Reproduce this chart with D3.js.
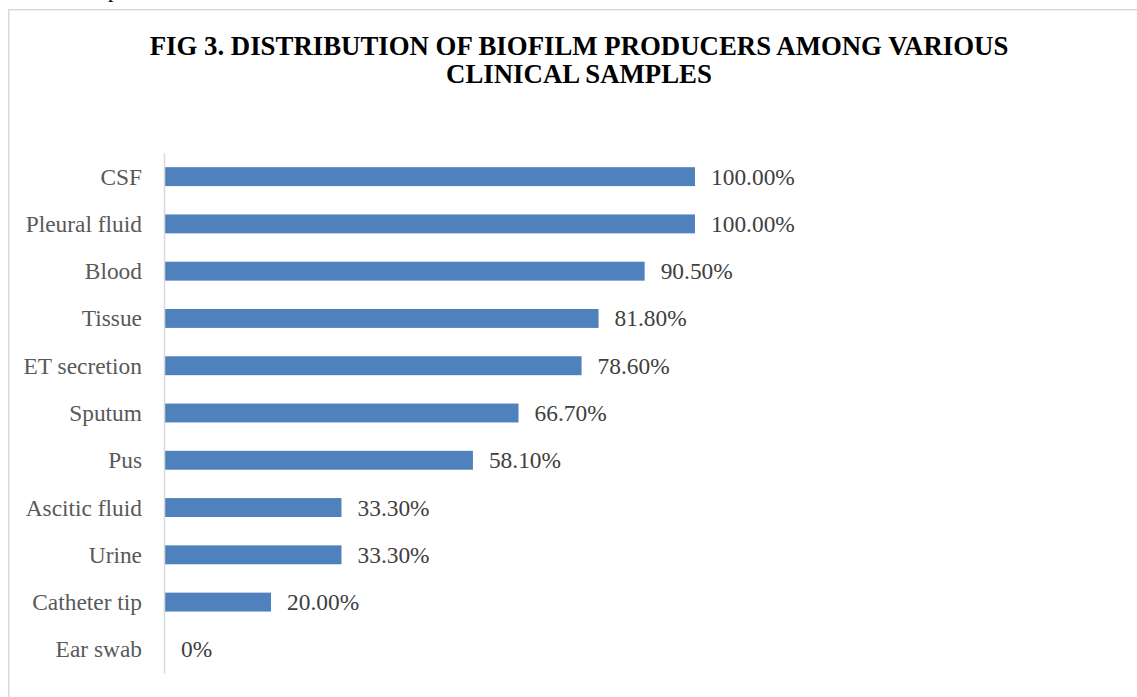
<!DOCTYPE html>
<html>
<head>
<meta charset="utf-8">
<script src="https://cdn.jsdelivr.net/npm/d3@7"></script>
<style>
html,body{margin:0;padding:0;background:#fff;overflow:hidden;}
svg{display:block;}
</style>
</head>
<body>
<svg id="chart" width="1137" height="697"></svg>
<script>
const categories = ["CSF","Pleural fluid","Blood","Tissue","ET secretion","Sputum","Pus","Ascitic fluid","Urine","Catheter tip","Ear swab"];
const values = [100.0,100.0,90.5,81.8,78.6,66.7,58.1,33.3,33.3,20.0,0];
const valueLabels = ["100.00%","100.00%","90.50%","81.80%","78.60%","66.70%","58.10%","33.30%","33.30%","20.00%","0%"];
const titleLines = ["FIG 3. DISTRIBUTION OF BIOFILM PRODUCERS AMONG VARIOUS","CLINICAL SAMPLES"];

const svg = d3.select("#chart");
const font = "'Liberation Serif','Times New Roman',serif";

// stray text descender from page above
svg.append("text").attr("x",108).attr("y",-3).attr("font-family",font).attr("font-size",22).attr("fill","#000").text("p");

// chart frame
svg.append("rect").attr("x",8.75).attr("y",9.75).attr("width",1200).attr("height",800)
  .attr("fill","#fff").attr("stroke","#d9d9d9").attr("stroke-width",1.5);

// title
svg.append("text").attr("x",579).attr("y",55).attr("text-anchor","middle")
  .attr("font-family",font).attr("font-weight","bold").attr("font-size",26.8).attr("fill","#000")
  .selectAll("tspan").data(titleLines).join("tspan")
  .attr("x",579).attr("dy",(d,i)=>i===0?0:28).text(d=>d);

const x = d3.scaleLinear().domain([0,100]).range([165,695]);
const y = d3.scaleBand().domain(categories).range([153,673]).paddingInner(0.6).paddingOuter(0.3);

// bars
svg.append("g").selectAll("rect").data(categories).join("rect")
  .attr("x",x(0)).attr("y",d=>y(d))
  .attr("width",(d,i)=>x(values[i])-x(0)).attr("height",y.bandwidth())
  .attr("fill","#4f81bd");

// axis
const axis = d3.axisLeft(y).tickSize(0).tickPadding(22);
const g = svg.append("g").attr("transform","translate(164,0)").call(axis);
g.select(".domain").attr("stroke","#d9d9d9").attr("stroke-width",1.5);
g.selectAll("text").attr("font-family",font).attr("font-size",23.4).attr("fill","#595959").attr("dy","0.34em");

// value labels
svg.append("g").selectAll("text").data(categories).join("text")
  .attr("x",(d,i)=>x(values[i])+16).attr("y",d=>y(d)+y.bandwidth()/2)
  .attr("dy","0.34em").attr("font-family",font).attr("font-size",23.4).attr("fill","#404040")
  .text((d,i)=>valueLabels[i]);
</script>
</body>
</html>
